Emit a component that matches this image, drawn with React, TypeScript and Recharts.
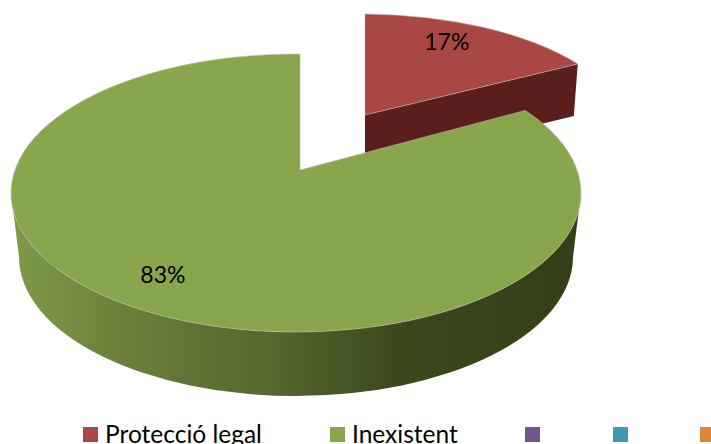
import { PieChart, Pie, Legend } from 'recharts'

const categories = ['Protecció legal', 'Inexistent', '', '', '']
const shares = [17, 83, 0, 0, 0]
const colors = ['#a94744', '#8aa64d', '#70578f', '#4098b2', '#de8538']

const chartData = categories.map((name, i) => ({ name, value: shares[i], fill: colors[i] }))

const legendX = [83, 330, 525, 613, 700]
const font = 'Lato, "Open Sans", sans-serif'

// tilted disc for each slice: centre shift, radii, and the apex (it is not the ellipse centre, perspective)
const discs: Record<number, any> = {
  0: { dx: 65, dy: -58, scaleX: 0.94, ry: 121, apexX: 4, apexY: -20, rayK: 117, depth: 52, inset: 4, wall: '#5a1f1c', labelX: 0.6, labelY: 0.735 },
  1: { dx: 0, dy: 0, scaleX: 1, ry: 139, apexX: 4, apexY: -23, rayK: 137, depth: 64, inset: 8, wall: 'url(#greenSide)', labelX: 0.945, labelY: 0.882 },
}

function rimPoint(disc: any, cx: number, cy: number, rx: number, angle: number) {
  const rad = (angle * Math.PI) / 180
  const dirX = rx * Math.sin(rad)
  const dirY = -disc.rayK * Math.cos(rad)
  const ox = disc.apexX / rx
  const oy = disc.apexY / disc.ry
  const ux = dirX / rx
  const uy = dirY / disc.ry
  const a = ux * ux + uy * uy
  const b = 2 * (ox * ux + oy * uy)
  const c = ox * ox + oy * oy - 1
  const t = (-b + Math.sqrt(b * b - 4 * a * c)) / (2 * a)
  return { x: cx + disc.apexX + t * dirX, y: cy + disc.apexY + t * dirY, t }
}

function TiltedSlice(props: any) {
  const disc = discs[props.index]
  if (!disc || !props.value) return null
  const rx = props.outerRadius * disc.scaleX
  const cx = props.cx + disc.dx
  const cy = props.cy + disc.dy
  const from = 90 - props.startAngle
  const to = 90 - props.endAngle
  const p0 = rimPoint(disc, cx, cy, rx, from)
  const p1 = rimPoint(disc, cx, cy, rx, to)
  const ax = cx + disc.apexX
  const ay = cy + disc.apexY
  const large = to - from > 180 ? 1 : 0
  const top = `M${ax},${ay} L${p0.x},${p0.y} A${rx},${disc.ry} 0 ${large} 1 ${p1.x},${p1.y} Z`

  if (props.index === 0) {
    const wall = `M${ax},${ay} L${p1.x},${p1.y} L${p1.x - disc.inset},${p1.y + disc.depth} L${ax},${ay + disc.depth} Z`
    return (
      <g>
        <path d={wall} fill={disc.wall} />
        <path d={top} fill={props.fill} stroke="#c9b5b3" strokeWidth={0.6} />
      </g>
    )
  }

  const rxLow = rx - disc.inset
  const side = `M${cx + rx},${cy} A${rx},${disc.ry} 0 0 1 ${cx - rx},${cy} L${cx - rxLow},${cy + disc.depth} A${rxLow},${disc.ry} 0 0 0 ${cx + rxLow},${cy + disc.depth} Z`
  return (
    <g>
      <defs>
        <linearGradient id="greenSide" x1="0" y1="0" x2="1" y2="0">
          <stop offset="0" stopColor="#7f9a49" />
          <stop offset="0.2" stopColor="#6a8039" />
          <stop offset="0.45" stopColor="#556830" />
          <stop offset="0.68" stopColor="#3b481c" />
          <stop offset="1" stopColor="#343f19" />
        </linearGradient>
      </defs>
      <path d={side} fill={disc.wall} />
      <path d={top} fill={props.fill} stroke="#b9bdb0" strokeWidth={0.6} />
    </g>
  )
}

function sliceLabel(props: any) {
  const disc = discs[props.index]
  if (!disc || !props.value) return <g />
  const rx = props.outerRadius * disc.scaleX
  const mid = 90 - (props.startAngle + props.endAngle) / 2
  const rad = (mid * Math.PI) / 180
  const x = props.cx + disc.dx + disc.apexX + disc.labelX * rx * Math.sin(rad)
  const y = props.cy + disc.dy + disc.apexY - disc.labelY * disc.rayK * Math.cos(rad)
  return (
    <text x={x} y={y} textAnchor="middle" dominantBaseline="central" fontFamily={font} fontSize={23} fill="#000">
      {props.value}%
    </text>
  )
}

function LegendRow({ payload }: any) {
  return (
    <div style={{ position: 'relative', width: 711, height: 444 }}>
      {(payload ?? []).map((entry: any, i: number) => (
        <div key={i} style={{ position: 'absolute', left: legendX[i], top: 427, display: 'flex' }}>
          <span style={{ width: 15, height: 15, background: colors[i], display: 'block' }} />
          {categories[i] && (
            <span
              style={{
                marginLeft: 7,
                marginTop: -7,
                fontFamily: font,
                fontSize: 24.5,
                lineHeight: '28px',
                color: '#000',
                whiteSpace: 'nowrap',
              }}
            >
              {categories[i]}
            </span>
          )}
        </div>
      ))}
    </div>
  )
}

export default function App() {
  return (
    <div style={{ position: 'absolute', left: 0, top: 0, width: 711, height: 444, overflow: 'hidden', background: '#fff' }}>
      <PieChart width={711} height={444} margin={{ top: 0, right: 0, bottom: 0, left: 0 }}>
        {/* centre + middle keeps the legend from taking room away from the plot */}
        <Legend
          content={<LegendRow />}
          verticalAlign="middle"
          align="center"
          wrapperStyle={{ left: 0, top: 0, width: 711, height: 444 }}
        />
        <Pie
          data={chartData}
          dataKey="value"
          nameKey="name"
          cx={296}
          cy={193}
          outerRadius={285}
          startAngle={90}
          endAngle={-270}
          stroke="none"
          label={sliceLabel}
          labelLine={false}
          shape={TiltedSlice}
          isAnimationActive={false}
        />
      </PieChart>
    </div>
  )
}
